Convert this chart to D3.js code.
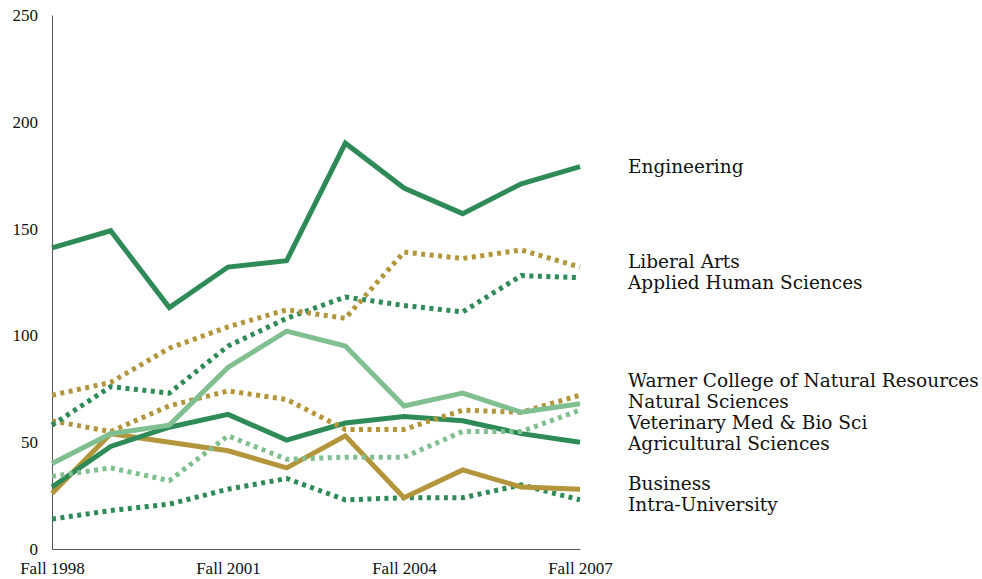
<!DOCTYPE html>
<html>
<head>
<meta charset="utf-8">
<script src="https://cdn.jsdelivr.net/npm/d3@7/dist/d3.min.js"></script>
<style>
  html, body { margin: 0; padding: 0; background: #fff; }
  svg { display: block; }
</style>
</head>
<body>
<svg id="chart" width="982" height="579"></svg>
<script>
// ---- data ----
const years = ["Fall 1998","Fall 1999","Fall 2000","Fall 2001","Fall 2002","Fall 2003","Fall 2004","Fall 2005","Fall 2006","Fall 2007"];
const xTickLabels = ["Fall 1998","Fall 2001","Fall 2004","Fall 2007"];
const yTicks = [0, 50, 100, 150, 200, 250];

const seriesNames = ["Engineering","Liberal Arts","Applied Human Sciences","Warner College of Natural Resources","Natural Sciences","Veterinary Med & Bio Sci","Agricultural Sciences","Business","Intra-University"];
const engineering  = [141,149,113,132,135,190,169,157,171,179];
const liberalArts  = [72,78,94,104,112,108,139,136,140,132];
const appliedHuman = [58,76,73,95,108,118,114,111,128,127];
const warner       = [40,54,58,85,102,95,67,73,64,68];
const naturalSci   = [60,55,67,74,70,56,56,65,64,72];
const vetMed       = [34,38,32,53,42,43,43,55,55,65];
const agSci        = [29,48,57,63,51,59,62,60,54,50];
const business     = [26,54,50,46,38,53,24,37,29,28];
const intraUniv    = [14,18,21,28,33,23,24,24,30,23];
const seriesValues = [engineering, liberalArts, appliedHuman, warner, naturalSci, vetMed, agSci, business, intraUniv];

// ---- styles ----
const DARK = "#2e8b57", LIGHT = "#80bf8f", GOLD = "#b3963c";
const seriesColor  = [DARK, GOLD, DARK, LIGHT, GOLD, LIGHT, DARK, GOLD, DARK];
const seriesDashed = [false, true, true, false, true, true, false, false, true];

const svg = d3.select("#chart");
const mLeft = 52, mRight = 580, mTop = 15, mBottom = 549;

const x = d3.scalePoint().domain(years).range([mLeft, mRight]);
const y = d3.scaleLinear().domain([0, 250]).range([mBottom, mTop]);

// axes
const yAxis = d3.axisLeft(y).tickValues(yTicks).tickSize(0).tickPadding(14);
const gy = svg.append("g").attr("transform", `translate(${mLeft},0)`).call(yAxis);
gy.select(".domain").attr("stroke", "#555").attr("stroke-width", 1);
gy.selectAll("text").style("font-family", "'Liberation Serif', serif").style("font-size", "17px").attr("fill", "#111");

const xAxis = d3.axisBottom(x).tickValues(xTickLabels).tickSize(0).tickPadding(13);
const gx = svg.append("g").attr("transform", `translate(0,${mBottom})`).call(xAxis);
gx.select(".domain").attr("stroke", "#555").attr("stroke-width", 1);
gx.selectAll("text").style("font-family", "'Liberation Serif', serif").style("font-size", "17px").attr("fill", "#111");

// lines
const line = d3.line().x((d, i) => x(years[i])).y(d => y(d));
const drawOrder = [8, 7, 6, 5, 4, 3, 2, 1, 0];
drawOrder.forEach(i => {
  svg.append("path")
    .attr("d", line(seriesValues[i]))
    .attr("fill", "none")
    .attr("stroke", seriesColor[i])
    .attr("stroke-width", 5)
    .attr("stroke-linejoin", "miter")
    .attr("stroke-dasharray", seriesDashed[i] ? "4,4.5" : null);
});

// labels with simple collision avoidance (order kept as listed)
const gap = 21;
const nodes = seriesNames.map((n, i) => ({ name: n, target: y(seriesValues[i][seriesValues[i].length - 1]) + 6 }));
const clusters = nodes.map(n => ({ items: [n], mean: n.target }));
function place(c) {
  const k = c.items.length;
  c.items.forEach((it, j) => it.pos = c.mean + (j - (k - 1) / 2) * gap);
}
clusters.forEach(place);
let changed = true;
while (changed) {
  changed = false;
  for (let i = 0; i < clusters.length - 1; i++) {
    const a = clusters[i], b = clusters[i + 1];
    const aLast = a.items[a.items.length - 1].pos, bFirst = b.items[0].pos;
    if (bFirst - aLast < gap) {
      const items = a.items.concat(b.items);
      const c = { items, mean: d3.mean(items, d => d.target) };
      place(c);
      clusters.splice(i, 2, c);
      changed = true;
      break;
    }
  }
}
svg.append("g").selectAll("text").data(nodes).join("text")
  .attr("x", 628)
  .attr("y", d => d.pos)
  .style("font-family", "'DejaVu Serif', serif")
  .style("font-size", "18.5px")
  .attr("fill", "#111")
  .text(d => d.name);
</script>
</body>
</html>
